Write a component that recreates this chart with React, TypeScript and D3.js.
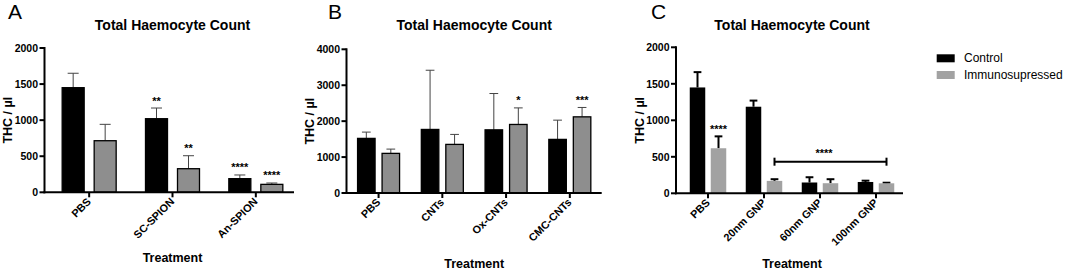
import React from 'react';
import * as d3 from 'd3';

// ---------- Data ----------
const catsA = ['PBS', 'SC-SPION', 'An-SPION'];
const ctrlA = [1450, 1020, 189];
const ctrlErrA = [1650, 1168, 240];
const immA = [715, 327, 110];
const immErrA = [942, 507, 129];
const ctrlStarsA = ['', '**', '****'];
const immStarsA = ['', '**', '****'];
const yTicksA = [0, 500, 1000, 1500, 2000];

const catsB = ['PBS', 'CNTs', 'Ox-CNTs', 'CMC-CNTs'];
const ctrlB = [1520, 1769, 1758, 1492];
const ctrlErrB = [1695, 3417, 2769, 2028];
const immB = [1103, 1353, 1908, 2120];
const immErrB = [1222, 1631, 2369, 2381];
const ctrlStarsB = ['', '', '', ''];
const immStarsB = ['', '', '*', '***'];
const yTicksB = [0, 1000, 2000, 3000, 4000];

const catsC = ['PBS', '20nm GNP', '60nm GNP', '100nm GNP'];
const ctrlC = [1450, 1186, 148, 155];
const ctrlErrC = [1660, 1270, 220, 173];
const immC = [617, 170, 138, 137];
const immErrC = [780, 193, 193, 145];
const ctrlStarsC = ['', '', '', ''];
const immStarsC = ['****', '', '', ''];
const yTicksC = [0, 500, 1000, 1500, 2000];
const bracketFromC = '20nm GNP';
const bracketToC = '100nm GNP';
const bracketMidC = '60nm GNP';
const bracketValueC = 433;
const bracketLabelC = '****';

const seriesLabels = ['Control', 'Immunosupressed'];
const chartTitle = 'Total Haemocyte Count';
const yTitle = 'THC / µl';
const xTitle = 'Treatment';

const FONT = 'Arial, "Liberation Sans", Helvetica, sans-serif';

type Layout = {
  axisX: number; axisEnd: number; bandStart: number; bandEnd: number;
  yTop: number; y0: number; barW: number; gap: number; xTitleY: number;
  letterX: number;
};
type Style = { immFill: string; barStroke: string; barStrokeW: number; errColor: string; errW: number; };

type PanelProps = {
  letter: string; cats: string[]; ctrl: number[]; ctrlErr: number[]; imm: number[]; immErr: number[];
  ctrlStars: string[]; immStars: string[]; yTicks: number[]; layout: Layout; style: Style;
  bracket?: { from: string; to: string; mid: string; value: number; label: string };
};

function Panel(p: PanelProps) {
  const L = p.layout;
  const S = p.style;
  const yMax = p.yTicks[p.yTicks.length - 1];
  const y = d3.scaleLinear().domain([0, yMax]).range([L.y0, L.yTop]);
  const x = d3.scaleBand<string>().domain(p.cats).range([L.bandStart, L.bandEnd]);
  const cx = (c: string) => (x(c) as number) + x.bandwidth() / 2;
  const ctrlX = (c: string) => cx(c) - L.gap / 2 - L.barW;
  const immX = (c: string) => cx(c) + L.gap / 2;
  const midX = (L.bandStart + L.bandEnd) / 2;
  const cap = L.barW * 0.5;

  const errBar = (bx: number, v: number, e: number, key: string) => {
    const c = bx + L.barW / 2;
    return (
      <g key={key} stroke={S.errColor} strokeWidth={S.errW}>
        <line x1={c} x2={c} y1={y(v)} y2={y(e)} />
        <line x1={c - cap / 2} x2={c + cap / 2} y1={y(e)} y2={y(e)} />
      </g>
    );
  };
  const stars = (bx: number, e: number, s: string, key: string) =>
    s ? (
      <text key={key} x={bx + L.barW / 2} y={y(e) - 3.5} textAnchor="middle" fontSize={11} fontWeight="bold" fontFamily={FONT}>{s}</text>
    ) : null;

  return (
    <g>
      <text x={L.letterX} y={18.5} fontSize={21} fontFamily={FONT}>{p.letter}</text>
      <text x={midX} y={30} textAnchor="middle" fontSize={14} fontWeight="bold" fontFamily={FONT}>{chartTitle}</text>
      <text transform={`translate(${L.axisX - 32.5},${(L.y0 + L.yTop) / 2}) rotate(-90)`} textAnchor="middle" fontSize={12.5} fontWeight="bold" fontFamily={FONT}>{yTitle}</text>
      {p.cats.map((c, i) => errBar(ctrlX(c), p.ctrl[i], p.ctrlErr[i], 'ce' + i))}
      {p.cats.map((c, i) => errBar(immX(c), p.imm[i], p.immErr[i], 'ie' + i))}
      {p.cats.map((c, i) => (
        <rect key={'cr' + i} x={ctrlX(c)} y={y(p.ctrl[i])} width={L.barW} height={L.y0 - y(p.ctrl[i])} fill="#000" stroke={S.barStroke} strokeWidth={S.barStrokeW} />
      ))}
      {p.cats.map((c, i) => (
        <rect key={'ir' + i} x={immX(c)} y={y(p.imm[i])} width={L.barW} height={L.y0 - y(p.imm[i])} fill={S.immFill} stroke={S.barStroke} strokeWidth={S.barStrokeW} />
      ))}
      {p.cats.map((c, i) => stars(ctrlX(c), p.ctrlErr[i], p.ctrlStars[i], 'cs' + i))}
      {p.cats.map((c, i) => stars(immX(c), p.immErr[i], p.immStars[i], 'is' + i))}
      {p.bracket ? (() => {
        const b = p.bracket!;
        const x1 = immX(b.from) + L.barW / 2;
        const x2 = immX(b.to) + L.barW / 2;
        const by = y(b.value);
        return (
          <g>
            <g stroke="#000" strokeWidth={2}>
              <line x1={x1} x2={x2} y1={by} y2={by} />
              <line x1={x1} x2={x1} y1={by - 4} y2={by + 4} />
              <line x1={x2} x2={x2} y1={by - 4} y2={by + 4} />
            </g>
            <text x={cx(b.mid) + 4} y={by - 4.5} textAnchor="middle" fontSize={11} fontWeight="bold" fontFamily={FONT}>{b.label}</text>
          </g>
        );
      })() : null}
      {/* y axis */}
      <line x1={L.axisX} x2={L.axisX} y1={L.y0 + 1} y2={L.yTop - 1} stroke="#000" strokeWidth={2} />
      {p.yTicks.map((t) => (
        <g key={'yt' + t}>
          <line x1={L.axisX - 5} x2={L.axisX} y1={y(t)} y2={y(t)} stroke="#000" strokeWidth={2} />
          <text x={L.axisX - 6.5} y={y(t)} dy="0.36em" textAnchor="end" fontSize={10.5} fontWeight="bold" fontFamily={FONT}>{t}</text>
        </g>
      ))}
      {/* x axis */}
      <line x1={L.axisX - 1} x2={L.axisEnd} y1={L.y0} y2={L.y0} stroke="#000" strokeWidth={2} />
      {p.cats.map((c) => (
        <g key={'xt' + c}>
          <line x1={cx(c)} x2={cx(c)} y1={L.y0} y2={L.y0 + 5} stroke="#000" strokeWidth={2} />
          <text transform={`translate(${cx(c) + 2.5},${L.y0 + 10}) rotate(-45)`} textAnchor="end" fontSize={10.8} fontWeight="bold" fontFamily={FONT}>{c}</text>
        </g>
      ))}
      <text x={midX} y={L.xTitleY} textAnchor="middle" fontSize={12.5} fontWeight="bold" fontFamily={FONT}>{xTitle}</text>
    </g>
  );
}

const styleAB: Style = { immFill: '#8e8e8e', barStroke: '#000', barStrokeW: 1.3, errColor: '#444', errW: 1 };
const styleC: Style = { immFill: '#a2a2a2', barStroke: 'none', barStrokeW: 0, errColor: '#000', errW: 2 };

export default function App() {
  return (
    <svg width={1065} height={270} style={{ position: 'absolute', left: 0, top: 0, background: '#fff' }}>
      <Panel letter="A" cats={catsA} ctrl={ctrlA} ctrlErr={ctrlErrA} imm={immA} immErr={immErrA}
        ctrlStars={ctrlStarsA} immStars={immStarsA} yTicks={yTicksA} style={styleAB}
        layout={{ axisX: 44.5, axisEnd: 294, bandStart: 47.5, bandEnd: 297.5, yTop: 48, y0: 192.3, barW: 22, gap: 10, xTitleY: 261.5, letterX: 8 }} />
      <Panel letter="B" cats={catsB} ctrl={ctrlB} ctrlErr={ctrlErrB} imm={immB} immErr={immErrB}
        ctrlStars={ctrlStarsB} immStars={immStarsB} yTicks={yTicksB} style={styleAB}
        layout={{ axisX: 346.5, axisEnd: 601.7, bandStart: 346.7, bandEnd: 601.7, yTop: 49.3, y0: 193, barW: 17.5, gap: 7, xTitleY: 268, letterX: 328 }} />
      <Panel letter="C" cats={catsC} ctrl={ctrlC} ctrlErr={ctrlErrC} imm={immC} immErr={immErrC}
        ctrlStars={ctrlStarsC} immStars={immStarsC} yTicks={yTicksC} style={styleC}
        bracket={{ from: bracketFromC, to: bracketToC, mid: bracketMidC, value: bracketValueC, label: bracketLabelC }}
        layout={{ axisX: 676, axisEnd: 903, bandStart: 680, bandEnd: 904, yTop: 47.3, y0: 193.3, barW: 15.5, gap: 5.5, xTitleY: 268, letterX: 651 }} />
      {/* legend */}
      {seriesLabels.map((s, i) => (
        <g key={s}>
          <rect x={936.7} y={54.3 + i * 16.7} width={18} height={8} fill={i === 0 ? '#000' : '#a2a2a2'} />
          <text x={964} y={62.3 + i * 17} fontSize={12} fontFamily={FONT}>{s}</text>
        </g>
      ))}
    </svg>
  );
}
